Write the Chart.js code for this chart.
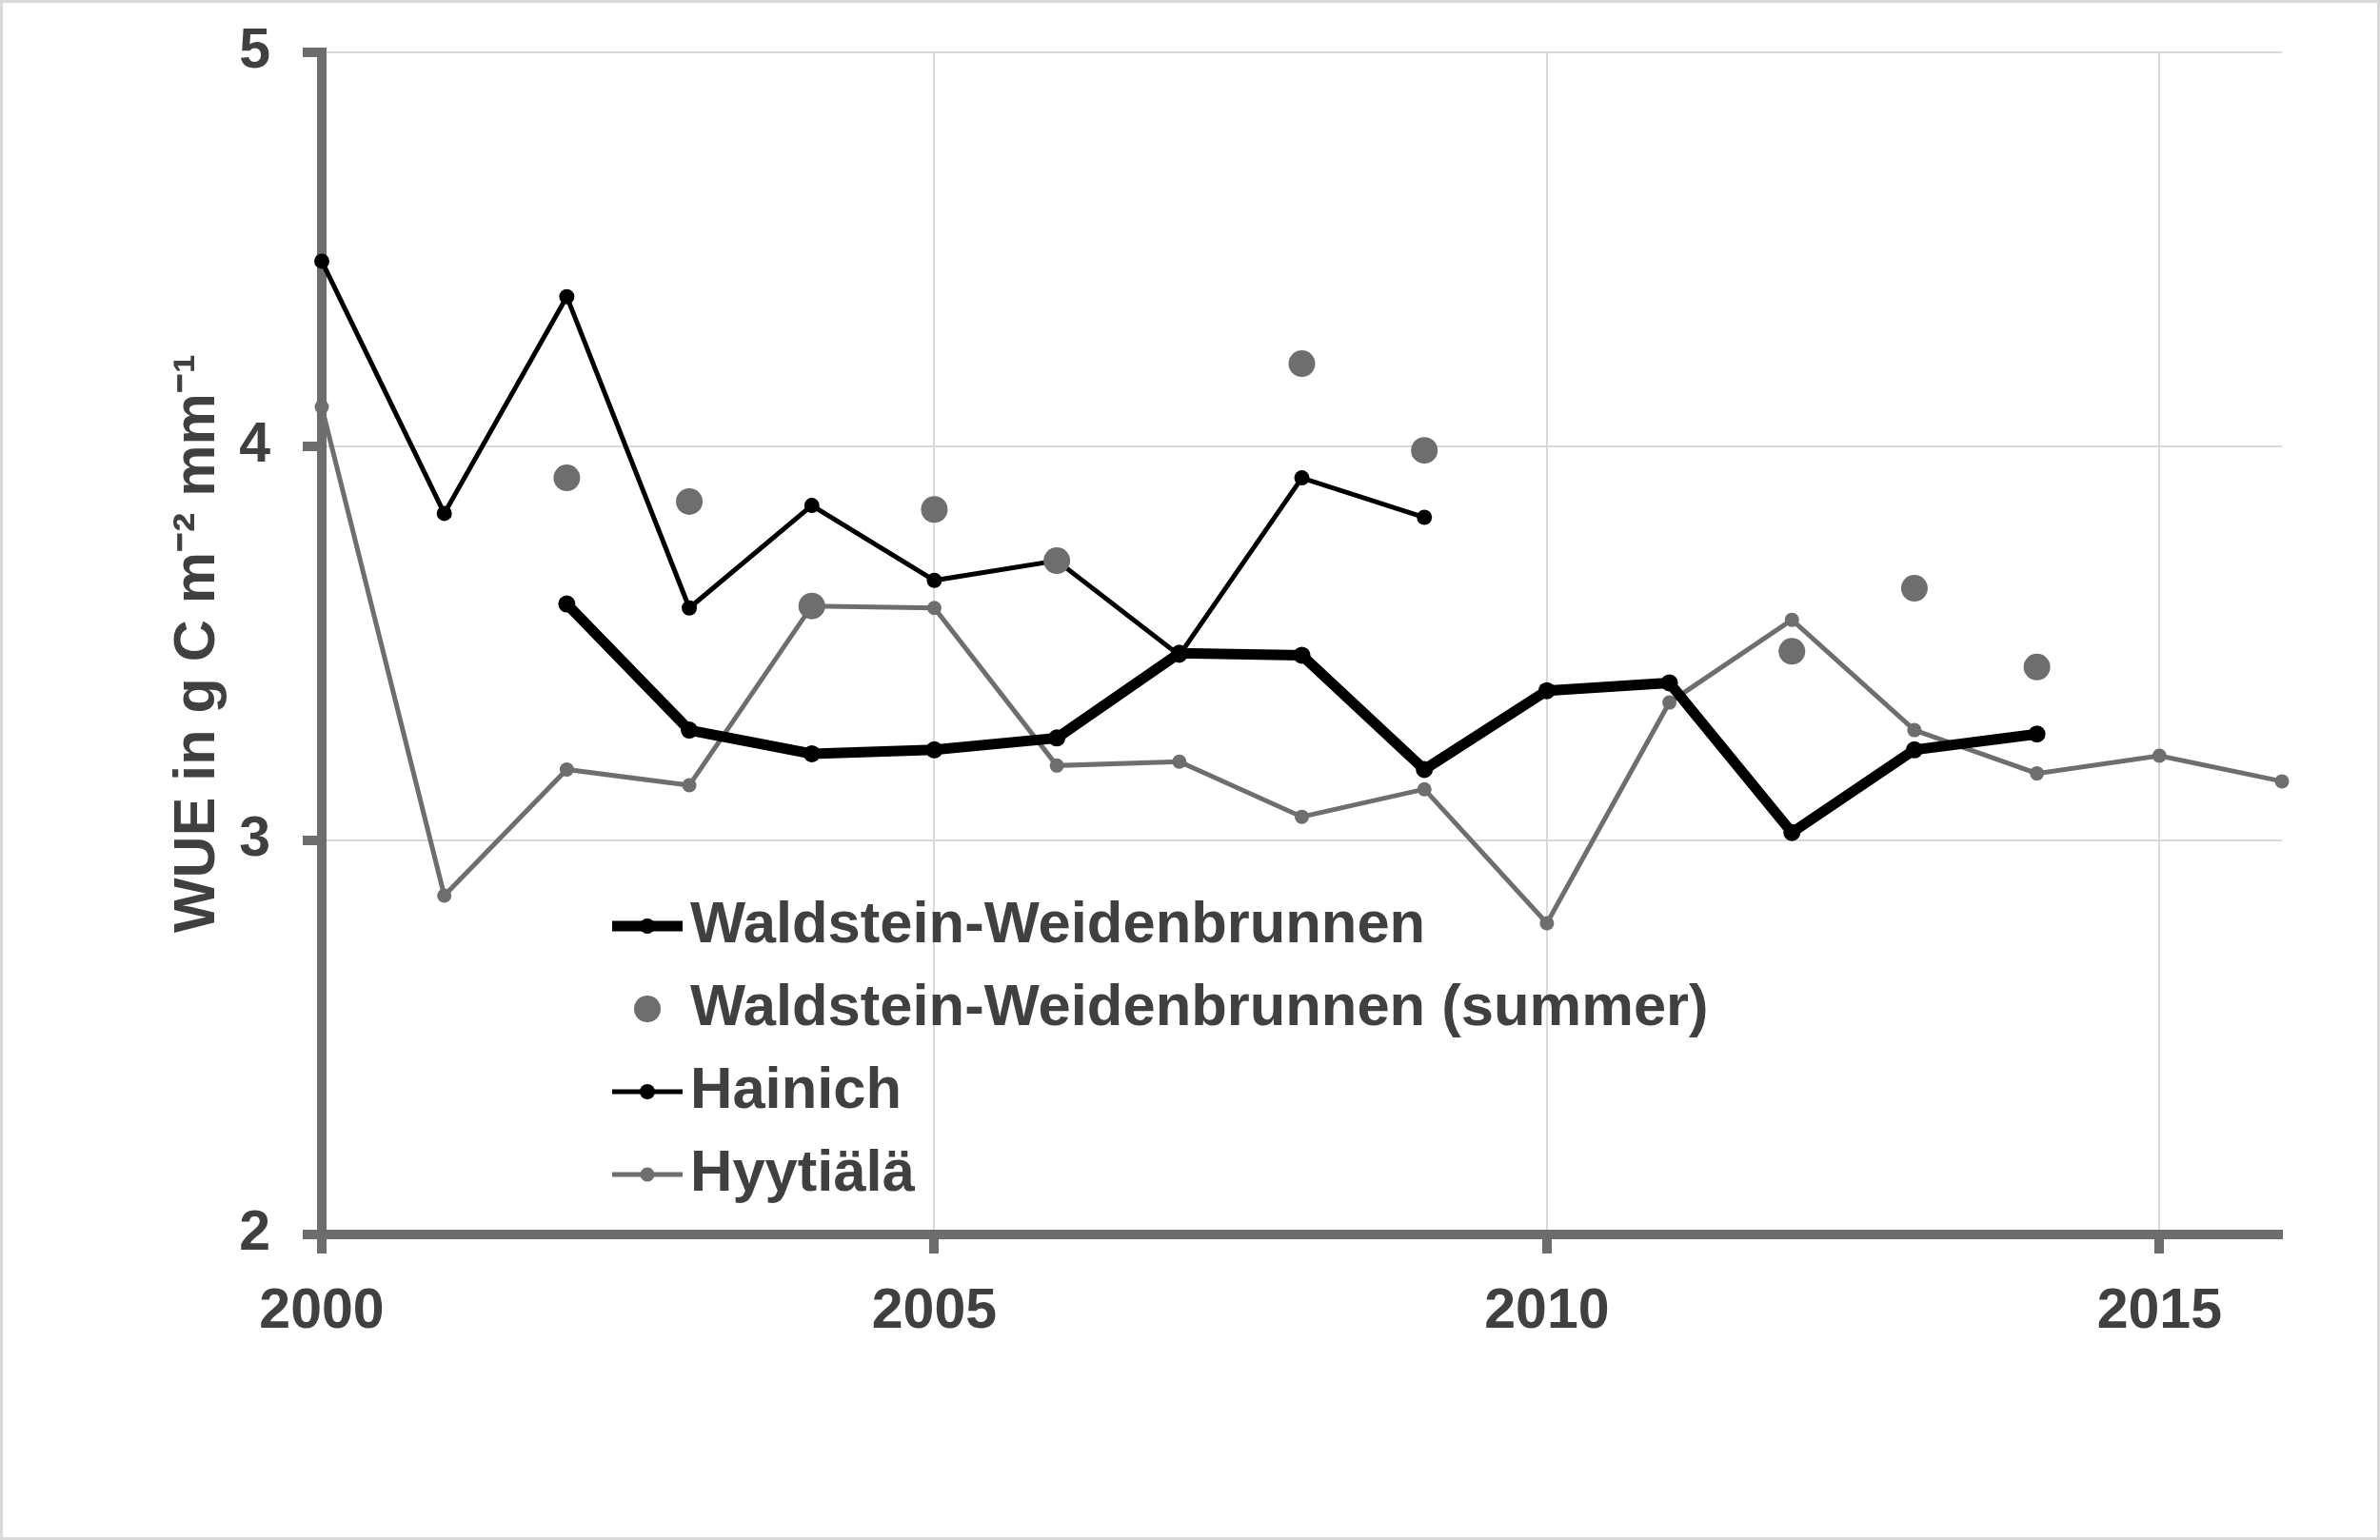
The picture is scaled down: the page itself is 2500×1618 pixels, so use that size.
<!DOCTYPE html>
<html>
<head>
<meta charset="utf-8">
<title>WUE</title>
<script src="https://cdn.jsdelivr.net/npm/chart.js@4.4.1/dist/chart.umd.min.js"></script>
<style>
  html, body { margin: 0; padding: 0; background: #fff; }
  #wueChart { display: block; }
</style>
</head>
<body>
<canvas id="wueChart" width="2500" height="1618"></canvas>
<script>
// Jahre und Werte (WUE in g C m-2 mm-1)
const years = [2000, 2001, 2002, 2003, 2004, 2005, 2006, 2007, 2008, 2009, 2010, 2011, 2012, 2013, 2014, 2015, 2016];
const waldstein = [null, null, 3.60, 3.28, 3.22, 3.23, 3.26, 3.475, 3.47, 3.18, 3.38, 3.40, 3.02, 3.23, 3.27, null, null];
const waldsteinSummer = [null, null, 3.92, 3.86, 3.595, 3.84, 3.71, null, 4.21, 3.99, null, null, 3.48, 3.64, 3.44, null, null];
const hainich = [4.47, 3.83, 4.38, 3.59, 3.85, 3.66, 3.71, 3.47, 3.92, 3.82, null, null, null, null, null, null, null];
const hyytiala = [4.10, 2.86, 3.18, 3.14, 3.595, 3.59, 3.19, 3.20, 3.06, 3.13, 2.79, 3.35, 3.56, 3.28, 3.17, 3.215, 3.15];

const seriesNames = ['Waldstein-Weidenbrunnen', 'Waldstein-Weidenbrunnen (summer)', 'Hainich', 'Hyytiälä'];
const xTicks = [2000, 2005, 2010, 2015];
const yTicks = [2, 3, 4, 5];

const FONT = '"Liberation Sans", Arial, Helvetica, sans-serif';
const TEXT = '#404040';
const AXIS = '#6d6d6d';
const GRID = '#d9d9d9';

Chart.defaults.font.family = FONT;
Chart.defaults.font.weight = 'bold';
Chart.defaults.font.size = 59;
Chart.defaults.color = TEXT;

function points(values) {
    return years.map((yr, i) => ({ x: yr, y: values[i] }));
}

// Legende innerhalb der Zeichenfläche
const innerLegend = {
    id: 'innerLegend',
    afterDatasetsDraw(chart, args, opts) {
        const ctx = chart.ctx;
        ctx.save();
        chart.data.datasets.forEach((ds, i) => {
            const y = opts.y + i * opts.rowHeight;
            if (ds.showLine !== false) {
                ctx.strokeStyle = ds.borderColor;
                ctx.lineWidth = ds.borderWidth;
                ctx.beginPath();
                ctx.moveTo(opts.x - opts.lineHalf, y);
                ctx.lineTo(opts.x + opts.lineHalf, y);
                ctx.stroke();
            }
            ctx.fillStyle = ds.pointBackgroundColor;
            ctx.beginPath();
            ctx.arc(opts.x, y, ds.legendRadius, 0, Math.PI * 2);
            ctx.fill();
            ctx.fillStyle = TEXT;
            ctx.font = 'bold ' + opts.fontSize + 'px ' + FONT;
            ctx.textBaseline = 'middle';
            ctx.textAlign = 'left';
            ctx.fillText(ds.label, opts.x + opts.textGap, y);
        });
        ctx.restore();
    },
    afterDraw(chart) {
        const ctx = chart.ctx;
        ctx.save();
        ctx.strokeStyle = GRID;
        ctx.lineWidth = 3;
        ctx.strokeRect(1.5, 1.5, chart.width - 3, chart.height - 3);
        ctx.restore();
    }
};

new Chart(document.getElementById('wueChart'), {
    type: 'line',
    data: {
        datasets: [{
            label: seriesNames[0],
            data: points(waldstein),
            borderColor: '#000000',
            borderWidth: 11,
            pointBackgroundColor: '#000000',
            pointBorderWidth: 0,
            pointRadius: 9,
            legendRadius: 8,
            order: 1,
            clip: false
        }, {
            label: seriesNames[1],
            data: points(waldsteinSummer),
            showLine: false,
            borderColor: '#6e6e6e',
            pointBackgroundColor: '#6e6e6e',
            pointBorderWidth: 0,
            pointRadius: 14,
            legendRadius: 14,
            order: 0,
            clip: false
        }, {
            label: seriesNames[2],
            data: points(hainich),
            borderColor: '#000000',
            borderWidth: 5,
            pointBackgroundColor: '#000000',
            pointBorderWidth: 0,
            pointRadius: 8,
            legendRadius: 8,
            order: 2,
            clip: false
        }, {
            label: seriesNames[3],
            data: points(hyytiala),
            borderColor: '#6e6e6e',
            borderWidth: 5,
            pointBackgroundColor: '#6e6e6e',
            pointBorderWidth: 0,
            pointRadius: 7.5,
            legendRadius: 7.5,
            order: 3,
            clip: false
        }]
    },
    options: {
        responsive: false,
        animation: false,
        devicePixelRatio: 1,
        layout: {
            padding: { top: 55, right: 103, bottom: 0, left: 0 }
        },
        elements: {
            line: { tension: 0 }
        },
        scales: {
            x: {
                type: 'linear',
                min: 2000,
                max: 2016,
                afterBuildTicks: s => { s.ticks = xTicks.map(v => ({ value: v })); },
                afterFit: s => { s.height = 321; },
                grid: {
                    color: GRID,
                    lineWidth: 2,
                    tickColor: AXIS,
                    tickWidth: 10,
                    tickLength: 20
                },
                border: { color: AXIS, width: 10 },
                ticks: {
                    padding: 26,
                    maxRotation: 0,
                    autoSkip: false,
                    callback: v => String(v)
                }
            },
            y: {
                min: 2,
                max: 5,
                afterBuildTicks: s => { s.ticks = yTicks.map(v => ({ value: v })); },
                afterFit: s => {
                    s.width = 338;
                    s.paddingTop = 0;
                    s.paddingBottom = 0;
                },
                grid: {
                    color: GRID,
                    lineWidth: 2,
                    tickColor: AXIS,
                    tickWidth: 10,
                    tickLength: 20
                },
                border: { color: AXIS, width: 10 },
                ticks: {
                    padding: 34,
                    font: { size: 59, lineHeight: 0.9 },
                    callback: v => String(v)
                },
                title: {
                    display: true,
                    text: 'WUE in g C m⁻² mm⁻¹',
                    color: TEXT,
                    font: { size: 61, weight: 'bold' },
                    padding: { top: 172, bottom: 0 }
                }
            }
        },
        plugins: {
            legend: { display: false },
            tooltip: { enabled: false },
            innerLegend: {
                x: 680,
                y: 973,
                rowHeight: 87,
                lineHalf: 37,
                textGap: 45,
                fontSize: 61.5
            }
        }
    },
    plugins: [innerLegend]
});
</script>
</body>
</html>
